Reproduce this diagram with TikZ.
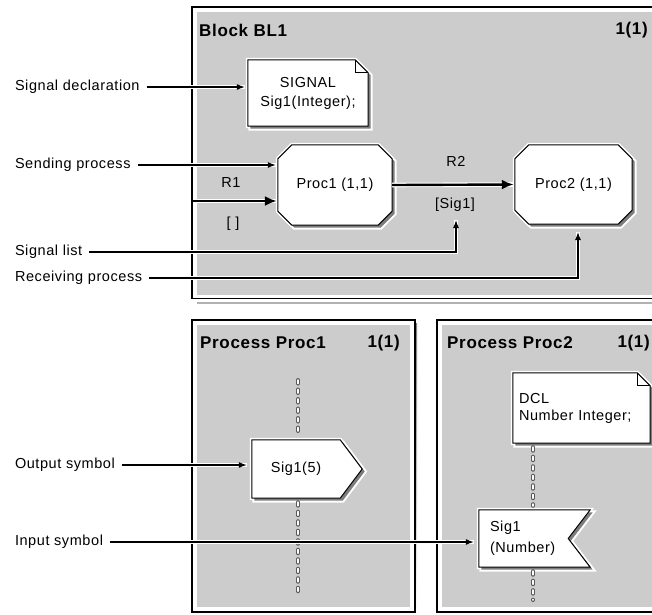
\documentclass[tikz,border=0pt]{standalone}
\usepackage{fontspec}
\setmainfont{Liberation Sans}[LetterSpace=4.0]
\usetikzlibrary{arrows.meta,calc}
\pgfdeclarelayer{frames}
\pgfdeclarelayer{shapes}
\pgfsetlayers{frames,shapes,main}
\definecolor{panel}{RGB}{204,204,204}
\definecolor{shade}{RGB}{125,125,125}
\newcommand\lblfont{\fontsize{14.5}{19}\selectfont}
\newcommand\ttlfont{\fontsize{17}{20}\selectfont\bfseries}
\begin{document}
\begin{tikzpicture}[x=1pt,y=-1pt,
 lbl/.style={font=\lblfont, inner sep=2pt, outer xsep=5pt, anchor=west},
 ttl/.style={font=\ttlfont, inner sep=1pt},
 symbox/.style={font=\lblfont, inner sep=0pt},
 sym/.style={preaction={draw=white,line width=4pt,transform canvas={shift={(2.5pt,-2.5pt)}}},
   preaction={draw=white,line width=4pt},
   preaction={fill=shade,transform canvas={shift={(2.5pt,-2.5pt)}}},
   fill=white, draw=black, line width=1pt, line join=miter},
 conn/.style={draw=black, line width=1.1pt, -{Latex[length=8pt,width=6pt]},
   preaction={draw=white,line width=3.2pt,-}},
 chan/.style={draw=black, line width=2.4pt, -{Latex[length=12pt,width=10pt]},
   preaction={draw=white,line width=4.6pt,-}},
 life/.style={draw=black!65, line width=4pt, line cap=round, dash pattern=on 3.5pt off 6pt,
   postaction={draw=white, line width=1.9pt, dash pattern=on 3.5pt off 6pt, line cap=round}},
 frameline/.style={draw=black, line width=1.6pt},
]
\useasboundingbox (0,0) rectangle (652,614);

% ---------- frames ----------
\begin{pgfonlayer}{frames}
 \fill[white] (0,0) rectangle (652,614);
 % Block BL1
 \fill[panel] (196.5,11.5) rectangle (700,294.5);
 \draw[frameline] (192,7) rectangle (700,298.5);
 \draw[black!30,line width=1.5pt] (197,303) -- (700,303);
 % Process Proc1
 \fill[shade] (195,323) rectangle (417,614.5);
 \fill[white] (192,320) rectangle (415,612);
 \fill[panel] (197,325) rectangle (410,607);
 \draw[frameline] (192,320) rectangle (415,612);
 % Process Proc2
 \fill[shade] (440,323) rectangle (700,614.5);
 \fill[white] (437,320) rectangle (700,612);
 \fill[panel] (442,325) rectangle (700,607);
 \draw[frameline] (437,320) rectangle (700,612);
\end{pgfonlayer}

% ---------- titles ----------
\node[ttl,anchor=west] (blt) at (198,30) {Block BL1};
\node[ttl,anchor=east] (blp) at (649,30) {1(1)};
\node[ttl,anchor=west] (p1t) at (199,343) {Process Proc1};
\node[ttl,anchor=east] (p1p) at (401,343) {1(1)};
\node[ttl,anchor=west] (p2t) at (446,343) {Process Proc2};
\node[ttl,anchor=east] (p2p) at (651,343) {1(1)};

% ---------- symbols (text nodes) ----------
\node[symbox, minimum width=120pt, minimum height=66pt, align=center] (sigdecl) at (308,93) {SIGNAL\\Sig1(Integer);};
\node[symbox, minimum width=114pt, minimum height=80pt] (proc1) at (335,185) {Proc1 (1,1)};
\node[symbox, minimum width=117pt, minimum height=79pt] (proc2) at (573.5,184.5) {Proc2 (1,1)};
\node[symbox] (r2) at (456,161) {R2};
\node[symbox] (sig1l) at (455,205) {[Sig1]};
\node[symbox] (r1) at (231,183) {R1};
\node[symbox] (r1l) at (233,224) {[ ]};

\node[symbox, minimum width=88pt, minimum height=58pt] (out1) at (296,469) {Sig1(5)};
\node[symbox, font=\fontsize{14.5}{21}\selectfont, minimum width=111pt, minimum height=57pt,
      text width=89pt, align=left, inner xsep=11pt] (in2) at (534.5,538.5) {Sig1\\(Number)};
\node[symbox, font=\fontsize{14.5}{17}\selectfont, minimum width=137pt, minimum height=70pt,
      text width=125pt, align=left, inner xsep=6pt] (dcl) at (581.5,408) {DCL\\Number Integer;};

% ---------- shapes ----------
\begin{pgfonlayer}{shapes}
 \path[sym] (sigdecl.north west) -- ([xshift=-13pt]sigdecl.north east) -- ([yshift=-13pt]sigdecl.north east)
   -- (sigdecl.south east) -- (sigdecl.south west) -- cycle;
 \draw[black,line width=1pt] ([xshift=-13pt]sigdecl.north east) -- ([xshift=-13pt,yshift=-13pt]sigdecl.north east)
   -- ([yshift=-13pt]sigdecl.north east);
 \path[sym] (dcl.north west) -- ([xshift=-13pt]dcl.north east) -- ([yshift=-13pt]dcl.north east)
   -- (dcl.south east) -- (dcl.south west) -- cycle;
 \draw[black,line width=1pt] ([xshift=-13pt]dcl.north east) -- ([xshift=-13pt,yshift=-13pt]dcl.north east)
   -- ([yshift=-13pt]dcl.north east);
 \foreach \p in {proc1,proc2}{
 \path[sym] ([xshift=14pt]\p.north west) -- ([xshift=-14pt]\p.north east) -- ([yshift=-14pt]\p.north east)
   -- ([yshift=14pt]\p.south east) -- ([xshift=-14pt]\p.south east) -- ([xshift=14pt]\p.south west)
   -- ([yshift=14pt]\p.south west) -- ([yshift=-14pt]\p.north west) -- cycle;
 }
 \path[sym] (out1.north west) -- (out1.north east) -- ([xshift=22pt]out1.east) -- (out1.south east)
   -- (out1.south west) -- cycle;
 \path[sym] (in2.north west) -- (in2.north east) -- ([xshift=-22pt]in2.east) -- (in2.south east)
   -- (in2.south west) -- cycle;
\end{pgfonlayer}

% ---------- lifelines ----------
\coordinate (l1top) at (298,380);
\coordinate (l1bot) at (298,596);
\draw[life] (l1top) -- ([yshift=4pt]l1top |- out1.north);
\draw[life] ([yshift=-4pt]l1top |- out1.south) -- (l1bot);
\coordinate (l2bot) at (533,600);
\draw[life] ([yshift=-4pt]dcl.south -| l2bot) -- ([yshift=4pt]in2.north -| l2bot);
\draw[life] ([yshift=-4pt]in2.south -| l2bot) -- (l2bot);

% ---------- labels ----------
\node[lbl] (lsigdecl) at (8,87) {Signal declaration};
\node[lbl] (lsend) at (8,165) {Sending process};
\node[lbl] (lsiglist) at (8,252) {Signal list};
\node[lbl] (lrecv) at (8,278) {Receiving process};
\node[lbl] (lout) at (8,465) {Output symbol};
\node[lbl] (lin) at (8,542) {Input symbol};

% ---------- connectors ----------
\draw[conn, shorten >=3pt] (lsigdecl.east) -- (lsigdecl.east -| sigdecl.west);
\draw[conn, shorten >=2pt] (lsend.east) -- (lsend.east -| proc1.west);
\coordinate (r1s) at (193,201);
\draw[chan, shorten >=1pt] (r1s) -- (r1s -| proc1.west);
\draw[chan, shorten >=1pt] (proc1.east) -- (proc2.west);
\coordinate (sltip) at (456,220);
\draw[conn] (lsiglist.east) -| (sltip);
\coordinate (rctip) at (578,232);
\draw[conn] (lrecv.east) -| (rctip);
\draw[conn, shorten >=5pt] (lout.east) -- (lout.east -| out1.west);
\draw[conn, shorten >=5pt] (lin.east) -- (lin.east -| in2.west);
\end{tikzpicture}
\end{document}
